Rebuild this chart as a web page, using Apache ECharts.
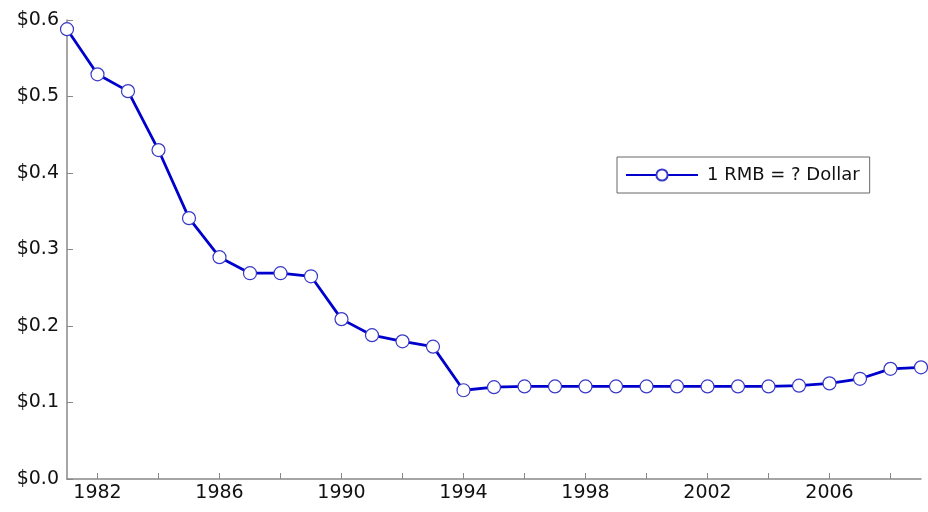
<!DOCTYPE html>
<html><head><meta charset="utf-8">
<script src="https://cdn.jsdelivr.net/npm/echarts@6/dist/echarts.min.js"></script>
<style>html,body{margin:0;padding:0;background:#fff}#c{width:928px;height:512px}</style>
</head><body><div id="c"></div>
<script>
const years = [1981,1982,1983,1984,1985,1986,1987,1988,1989,1990,1991,1992,1993,1994,1995,1996,1997,1998,1999,2000,2001,2002,2003,2004,2005,2006,2007,2008,2009];
const rates = [0.588,0.529,0.507,0.430,0.341,0.290,0.269,0.269,0.265,0.209,0.188,0.180,0.173,0.116,0.120,0.121,0.121,0.121,0.121,0.121,0.121,0.121,0.121,0.121,0.122,0.125,0.131,0.144,0.146];
const seriesName = '1 RMB = ? Dollar';
const yTicks = [0,0.1,0.2,0.3,0.4,0.5,0.6];

const chart = echarts.init(document.getElementById('c'));
const font = 'DejaVu Sans';
chart.setOption({
  animation:false,
  backgroundColor:'#fff',
  textStyle:{fontFamily:font},
  grid:{left:67,right:7,top:20,bottom:33},
  legend:{
    data:[seriesName],
    left:617, top:157,
    orient:'horizontal',
    itemWidth:72, itemHeight:14, itemGap:6,
    padding:[9,10,9,8],
    borderColor:'#666', borderWidth:1, borderRadius:0,
    textStyle:{fontFamily:font,fontSize:18,color:'#111',padding:[0,0,0,4]}
  },
  xAxis:{
    type:'category',
    data:years.map(String),
    boundaryGap:false,
    axisLine:{lineStyle:{color:'#888',width:1.5}},
    axisTick:{inside:true,length:6,lineStyle:{color:'#888'},interval:(i,v)=>(+v)%2===0},
    axisLabel:{interval:(i,v)=>(+v)%4===2,color:'#111',fontSize:19,fontFamily:font,margin:5},
    splitLine:{show:false}
  },
  yAxis:{
    type:'value',
    min:yTicks[0], max:yTicks[yTicks.length-1], interval:0.1,
    axisLine:{show:true,lineStyle:{color:'#888',width:1.5}},
    axisTick:{show:true,inside:true,length:6,lineStyle:{color:'#888'}},
    axisLabel:{formatter:v=>'$'+v.toFixed(1),color:'#111',fontSize:19,fontFamily:font,margin:8},
    splitLine:{show:false}
  },
  series:[{
    name:seriesName,
    type:'line',
    data:rates,
    symbol:'circle',
    symbolSize:13,
    lineStyle:{color:'#0000cc',width:2.8},
    itemStyle:{color:'#fff',borderColor:'#3838c8',borderWidth:1.2},
    z:3
  }]
});
</script></body></html>
